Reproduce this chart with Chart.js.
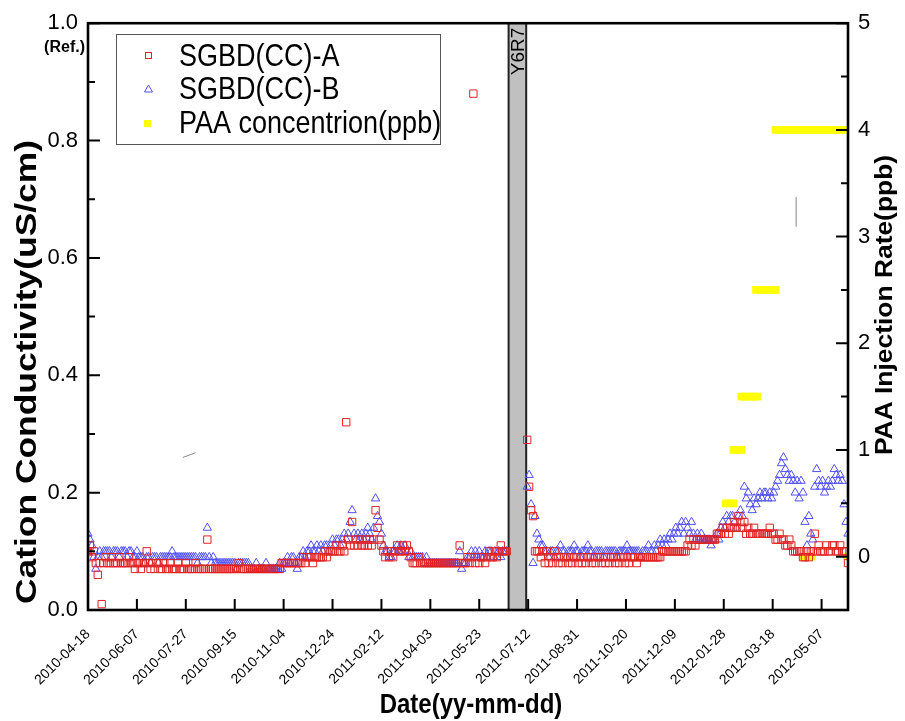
<!DOCTYPE html>
<html><head><meta charset="utf-8">
<script src="https://cdn.jsdelivr.net/npm/chart.js@4.4.0/dist/chart.umd.min.js"></script>
<style>html,body{margin:0;padding:0;background:#fff;}#wrap{width:905px;height:721px;}</style>
</head><body><div id="wrap"><canvas id="c" width="905" height="721"></canvas></div>
<script>
// ---------------- data ----------------
const axisStart = '2010-04-18';
const axisEnd = '2012-06-03';
const tickLabels = ['2010-04-18','2010-06-07','2010-07-27','2010-09-15','2010-11-04','2010-12-24',
  '2011-02-12','2011-04-03','2011-05-23','2011-07-12','2011-08-31','2011-10-20','2011-12-09',
  '2012-01-28','2012-03-18','2012-05-07'];
const leftTicks = [0, 0.2, 0.4, 0.6, 0.8, 1.0];
const rightTicks = [0, 1, 2, 3, 4, 5];

const outageStart = '2011-06-22';
const outageEnd = '2011-07-10';
const outageLabel = 'Y6R7';

// sampling: one reading every 2 days in each operating period
const seg1Start = '2010-04-18';
const seg2Start = '2011-07-11';
const stepDays = 2;

const sgbdA1 = [
0.10,0.11,0.09,0.10,0.08,0.06,0.08,0.01,0.08,0.09,
0.08,0.08,0.09,0.08,0.08,0.08,0.09,0.08,0.08,0.08,
0.08,0.09,0.08,0.08,0.07,0.08,0.08,0.07,0.08,0.08,
0.10,0.08,0.07,0.08,0.07,0.08,0.08,0.07,0.07,0.08,
0.07,0.07,0.08,0.07,0.07,0.07,0.08,0.07,0.07,0.07,
0.08,0.07,0.07,0.07,0.07,0.08,0.07,0.07,0.07,0.07,
0.07,0.12,0.07,0.07,0.07,0.07,0.07,0.07,0.07,0.07,
0.07,0.07,0.07,0.07,0.07,0.07,0.07,0.08,0.07,0.07,
0.07,0.07,0.07,0.07,0.07,0.07,0.07,0.07,0.07,0.07,
0.07,0.07,0.07,0.07,0.07,0.07,0.07,0.07,0.07,0.08,
0.08,0.08,0.08,0.08,0.08,0.08,0.08,0.08,0.08,0.08,
0.09,0.08,0.09,0.09,0.09,0.08,0.09,0.09,0.09,0.09,
0.09,0.10,0.09,0.10,0.10,0.10,0.10,0.11,0.10,0.10,
0.11,0.10,0.32,0.12,0.11,0.15,0.11,0.12,0.11,0.12,
0.11,0.11,0.12,0.11,0.12,0.11,0.12,0.17,0.14,0.12,
0.11,0.10,0.09,0.10,0.09,0.10,0.09,0.10,0.11,0.10,
0.10,0.11,0.10,0.11,0.10,0.09,0.08,0.08,0.08,0.09,
0.08,0.08,0.08,0.08,0.08,0.08,0.08,0.08,0.08,0.08,
0.08,0.08,0.08,0.08,0.08,0.08,0.08,0.08,0.08,0.08,
0.11,0.08,0.08,0.08,0.09,0.08,0.09,0.88,0.08,0.09,
0.08,0.09,0.09,0.08,0.09,0.10,0.09,0.09,0.10,0.09,
0.10,0.11,0.10,0.10,0.10];
const sgbdB1 = [
0.13,0.12,0.11,0.09,0.07,0.09,0.10,0.09,0.10,0.10,
0.10,0.10,0.09,0.10,0.10,0.10,0.09,0.10,0.10,0.10,
0.09,0.10,0.10,0.09,0.09,0.10,0.09,0.09,0.09,0.08,
0.09,0.09,0.08,0.09,0.09,0.09,0.08,0.09,0.09,0.09,
0.09,0.09,0.09,0.10,0.09,0.09,0.09,0.09,0.09,0.09,
0.09,0.09,0.09,0.09,0.09,0.09,0.08,0.09,0.09,0.09,
0.09,0.14,0.09,0.08,0.09,0.08,0.08,0.08,0.08,0.08,
0.08,0.08,0.08,0.08,0.08,0.08,0.07,0.08,0.08,0.08,
0.08,0.08,0.08,0.07,0.07,0.07,0.08,0.07,0.07,0.07,
0.07,0.08,0.07,0.07,0.07,0.07,0.07,0.07,0.08,0.07,
0.08,0.08,0.09,0.08,0.09,0.09,0.08,0.07,0.09,0.09,
0.10,0.09,0.10,0.10,0.11,0.10,0.10,0.11,0.10,0.11,
0.10,0.11,0.11,0.10,0.11,0.12,0.11,0.12,0.12,0.11,
0.12,0.13,0.12,0.13,0.15,0.17,0.13,0.12,0.13,0.12,
0.13,0.12,0.13,0.14,0.13,0.12,0.14,0.19,0.16,0.15,
0.13,0.11,0.10,0.10,0.09,0.09,0.10,0.10,0.11,0.10,
0.11,0.10,0.11,0.10,0.09,0.10,0.09,0.09,0.09,0.09,
0.09,0.09,0.08,0.09,0.08,0.08,0.08,0.08,0.08,0.08,
0.08,0.08,0.08,0.08,0.08,0.08,0.08,0.08,0.08,0.08,
0.10,0.07,0.08,0.08,0.09,0.09,0.10,0.09,0.10,0.09,
0.10,0.09,0.09,0.10,0.09,0.10,0.10,0.09,0.10,0.09,
0.10,0.09,0.10,0.10,0.10];
const sgbdA2 = [
0.29,0.21,0.17,0.16,0.10,0.10,0.10,0.09,0.10,0.08,
0.10,0.08,0.09,0.08,0.10,0.09,0.08,0.09,0.08,0.09,
0.09,0.08,0.09,0.08,0.09,0.09,0.08,0.09,0.08,0.09,
0.08,0.09,0.09,0.08,0.09,0.08,0.09,0.09,0.08,0.09,
0.08,0.09,0.08,0.09,0.09,0.08,0.09,0.08,0.09,0.09,
0.08,0.09,0.08,0.09,0.09,0.09,0.08,0.09,0.09,0.09,
0.09,0.09,0.09,0.09,0.09,0.09,0.09,0.09,0.09,0.10,
0.10,0.10,0.10,0.10,0.10,0.10,0.10,0.10,0.10,0.10,
0.10,0.10,0.11,0.12,0.11,0.12,0.11,0.12,0.12,0.12,
0.12,0.12,0.12,0.12,0.12,0.12,0.12,0.13,0.13,0.13,
0.14,0.13,0.14,0.13,0.14,0.14,0.15,0.14,0.16,0.15,
0.14,0.15,0.13,0.14,0.13,0.13,0.14,0.13,0.13,0.13,
0.13,0.13,0.13,0.13,0.14,0.13,0.13,0.12,0.12,0.13,
0.12,0.12,0.11,0.11,0.12,0.11,0.10,0.10,0.10,0.10,
0.10,0.09,0.09,0.10,0.09,0.10,0.10,0.13,0.10,0.11,
0.10,0.10,0.10,0.11,0.10,0.10,0.11,0.11,0.10,0.10,
0.11,0.10,0.10,0.10,0.08];
const sgbdB2 = [
0.21,0.23,0.18,0.08,0.16,0.13,0.12,0.11,0.11,0.10,
0.10,0.09,0.10,0.10,0.09,0.10,0.10,0.11,0.10,0.10,
0.09,0.10,0.10,0.10,0.11,0.10,0.10,0.09,0.10,0.10,
0.10,0.11,0.10,0.10,0.09,0.10,0.10,0.10,0.10,0.09,
0.10,0.10,0.10,0.10,0.10,0.10,0.09,0.10,0.10,0.10,
0.10,0.11,0.10,0.10,0.10,0.10,0.10,0.10,0.09,0.10,
0.10,0.10,0.11,0.10,0.10,0.11,0.10,0.11,0.12,0.11,
0.12,0.11,0.12,0.13,0.12,0.13,0.14,0.13,0.14,0.15,
0.13,0.15,0.14,0.13,0.15,0.13,0.12,0.13,0.12,0.13,
0.12,0.12,0.12,0.12,0.11,0.12,0.12,0.13,0.12,0.14,
0.15,0.14,0.16,0.15,0.16,0.16,0.15,0.14,0.16,0.17,
0.16,0.21,0.19,0.20,0.18,0.17,0.19,0.18,0.19,0.20,
0.19,0.20,0.20,0.19,0.20,0.19,0.20,0.21,0.22,0.23,
0.25,0.26,0.24,0.23,0.22,0.23,0.22,0.20,0.22,0.19,
0.22,0.20,0.15,0.11,0.16,0.13,0.12,0.21,0.24,0.22,
0.21,0.22,0.20,0.21,0.22,0.21,0.22,0.24,0.23,0.22,
0.23,0.22,0.18,0.15,0.13];

const paaDates = [
'2012-01-30','2012-02-03','2012-02-07',
'2012-02-07','2012-02-11','2012-02-15',
'2012-02-15','2012-02-19','2012-02-23','2012-02-27','2012-03-02',
'2012-03-01','2012-03-05','2012-03-09','2012-03-13','2012-03-17','2012-03-21',
'2012-03-21','2012-03-25','2012-03-29','2012-04-02','2012-04-06','2012-04-10','2012-04-14',
'2012-04-18','2012-04-22','2012-04-26','2012-04-30','2012-05-04','2012-05-08','2012-05-12',
'2012-05-16','2012-05-20','2012-05-24','2012-05-28','2012-06-01',
'2012-04-19','2012-04-23','2012-04-27','2012-06-02'];
const paaValues = [
0.5,0.5,0.5,
1,1,1,
1.5,1.5,1.5,1.5,1.5,
2.5,2.5,2.5,2.5,2.5,2.5,
4,4,4,4,4,4,4,
4,4,4,4,4,4,4,
4,4,4,4,4,
0,0,0,0];

// small stray pencil strokes present in the original figure
const strokeADates = ['2010-07-24','2010-08-06'];
const strokeAValues = [0.26, 0.268];
const strokeBDates = ['2012-04-11','2012-04-11'];
const strokeBValues = [0.653, 0.704];

// ---------------- helpers ----------------
const DAY = 86400000;
function dayOf(s){
  const base = Date.UTC(2010,3,18);
  return Math.round((Date.UTC(+s.slice(0,4), +s.slice(5,7)-1, +s.slice(8,10)) - base)/DAY);
}
function seriesPoints(start, arr){
  const d0 = dayOf(start);
  return arr.map((v,i)=>({x:d0 + i*stepDays, y:v}));
}
function pairPoints(dates, vals){ return dates.map((d,i)=>({x:dayOf(d), y:vals[i]})); }

const FONT = "'Liberation Sans', Arial, sans-serif";
const RED = 'rgb(225,35,35)';
const BLUE = 'rgb(80,80,245)';
const YEL = 'rgb(255,255,0)';

const decor = {
  id:'decor',
  beforeDatasetsDraw(chart){
    const {ctx, chartArea:a, scales:{x}} = chart;
    const x1 = x.getPixelForValue(dayOf(outageStart));
    const x2 = x.getPixelForValue(dayOf(outageEnd));
    ctx.save();
    ctx.fillStyle = '#c0c0c0';
    ctx.fillRect(x1, a.top, x2-x1, a.bottom-a.top);
    ctx.strokeStyle = '#222'; ctx.lineWidth = 2;
    ctx.beginPath(); ctx.moveTo(x1,a.top); ctx.lineTo(x1,a.bottom);
    ctx.moveTo(x2,a.top); ctx.lineTo(x2,a.bottom); ctx.stroke();
    ctx.translate((x1+x2)/2+1, a.top+52);
    ctx.rotate(-Math.PI/2);
    ctx.fillStyle = '#000'; ctx.font = '19px '+FONT;
    ctx.textAlign = 'left'; ctx.textBaseline = 'middle';
    ctx.fillText(outageLabel, 0, 0);
    ctx.restore();
  },
  afterDatasetsDraw(chart){
    const {ctx, chartArea:a, scales:{x,y,y1}} = chart;
    ctx.save();
    ctx.strokeStyle = '#000';
    ctx.lineWidth = 2;
    ctx.beginPath();
    tickLabels.forEach(t=>{ const px = x.getPixelForValue(dayOf(t)); ctx.moveTo(px,a.bottom); ctx.lineTo(px,a.bottom-11); });
    leftTicks.forEach(v=>{ const py=y.getPixelForValue(v); ctx.moveTo(a.left,py); ctx.lineTo(a.left+12,py); });
    for(let v=0.1; v<1; v+=0.2){ const py=y.getPixelForValue(v); ctx.moveTo(a.left,py); ctx.lineTo(a.left+7,py); }
    rightTicks.forEach(v=>{ const py=y1.getPixelForValue(v); ctx.moveTo(a.right,py); ctx.lineTo(a.right-12,py); });
    for(let v=0.5; v<5; v+=1){ const py=y1.getPixelForValue(v); ctx.moveTo(a.right,py); ctx.lineTo(a.right-7,py); }
    ctx.stroke();
    ctx.lineWidth = 2.6;
    ctx.strokeRect(a.left, a.top, a.right-a.left, a.bottom-a.top);
    ctx.restore();
  },
  afterDraw(chart){
    const {ctx} = chart;
    ctx.save();
    ctx.fillStyle = '#000';
    ctx.font = 'bold 16px '+FONT; ctx.textAlign='right'; ctx.textBaseline='middle';
    ctx.fillText('(Ref.)', 85, 48);
    ctx.font = 'bold 24px '+FONT; ctx.textAlign='center'; ctx.textBaseline='middle';
    ctx.save(); ctx.translate(471, 705); ctx.scale(1,1.15); ctx.fillText('Date(yy-mm-dd)', 0, 0); ctx.restore();
    ctx.save(); ctx.translate(28, 372); ctx.rotate(-Math.PI/2); ctx.scale(1.18,1);
    ctx.font = 'bold 30px '+FONT; ctx.fillText('Cation Conductivity(uS/cm)', 0, 0); ctx.restore();
    ctx.save(); ctx.translate(885, 305); ctx.rotate(-Math.PI/2); ctx.scale(1.1,1);
    ctx.font = 'bold 24px '+FONT; ctx.fillText('PAA Injection Rate(ppb)', 0, 0); ctx.restore();
    // legend
    ctx.lineWidth = 1; ctx.strokeStyle = '#555';
    ctx.strokeRect(116.5, 34.5, 324, 110);
    const rows = [56, 89, 123];
    ctx.strokeStyle = RED; ctx.lineWidth = 1;
    ctx.strokeRect(145.5, rows[0]-3.5, 6, 6);
    ctx.strokeStyle = BLUE; ctx.beginPath();
    ctx.moveTo(148.5, rows[1]-4); ctx.lineTo(152.5, rows[1]+3); ctx.lineTo(144.5, rows[1]+3); ctx.closePath(); ctx.stroke();
    ctx.fillStyle = YEL; ctx.fillRect(144, rows[2]-3, 7, 7);
    ctx.fillStyle = '#000'; ctx.font = '27px '+FONT; ctx.textAlign='left'; ctx.textBaseline='middle';
    const names = ['SGBD(CC)-A','SGBD(CC)-B','PAA concentrion(ppb)'];
    names.forEach((n,i)=>{ ctx.save(); ctx.translate(179, rows[i]+1); ctx.scale(1,1.15); ctx.fillText(n,0,0); ctx.restore(); });
    ctx.restore();
  }
};

const ctx = document.getElementById('c').getContext('2d');
new Chart(ctx, {
  type:'scatter',
  data:{datasets:[
    {label:'SGBD(CC)-A', data:[...seriesPoints(seg1Start,sgbdA1), ...seriesPoints(seg2Start,sgbdA2)], yAxisID:'y',
     pointStyle:'rect', pointRadius:5.2, borderColor:RED, backgroundColor:'rgba(0,0,0,0)', borderWidth:1},
    {label:'SGBD(CC)-B', data:[...seriesPoints(seg1Start,sgbdB1), ...seriesPoints(seg2Start,sgbdB2)], yAxisID:'y',
     pointStyle:'triangle', pointRadius:4.8, borderColor:BLUE, backgroundColor:'rgba(0,0,0,0)', borderWidth:1},
    {label:'PAA concentrion(ppb)', data:pairPoints(paaDates,paaValues), yAxisID:'y1',
     pointStyle:'rect', pointRadius:5.5, borderColor:YEL, backgroundColor:YEL, borderWidth:0},
    {label:'s1', type:'line', data:pairPoints(strokeADates,strokeAValues), yAxisID:'y', borderColor:'#888', borderWidth:1, pointRadius:0},
    {label:'s2', type:'line', data:pairPoints(strokeBDates,strokeBValues), yAxisID:'y', borderColor:'#999', borderWidth:1.2, pointRadius:0}
  ]},
  options:{
    responsive:false, animation:false, devicePixelRatio:1,
    layout:{padding:{top:22,left:0,right:0,bottom:0}},
    plugins:{legend:{display:false}, tooltip:{enabled:false}},
    scales:{
      x:{type:'linear', min:dayOf(axisStart), max:dayOf(axisEnd),
         afterBuildTicks:s=>{ s.ticks = tickLabels.map(t=>({value:dayOf(t)})); },
         ticks:{callback:(v,i)=>tickLabels[i], minRotation:45, maxRotation:45, autoSkip:false,
                font:{family:FONT, size:14}, color:'#000', padding:16},
         grid:{display:false, drawTicks:false}, border:{display:false},
         afterFit:s=>{ s.height = 111; }},
      y:{position:'left', min:0, max:1,
         afterBuildTicks:s=>{ s.ticks = leftTicks.map(v=>({value:v})); },
         ticks:{callback:v=>v.toFixed(1), font:{family:FONT, size:22}, color:'#000', padding:10},
         grid:{display:false, drawTicks:false}, border:{display:false},
         afterFit:s=>{ s.width = 88; }},
      y1:{position:'right', min:-0.5, max:5,
         afterBuildTicks:s=>{ s.ticks = rightTicks.map(v=>({value:v})); },
         ticks:{callback:v=>String(v), font:{family:FONT, size:22}, color:'#000', padding:10},
         grid:{display:false, drawTicks:false}, border:{display:false},
         afterFit:s=>{ s.width = 57; }}
    }
  },
  plugins:[decor]
});
</script></body></html>
